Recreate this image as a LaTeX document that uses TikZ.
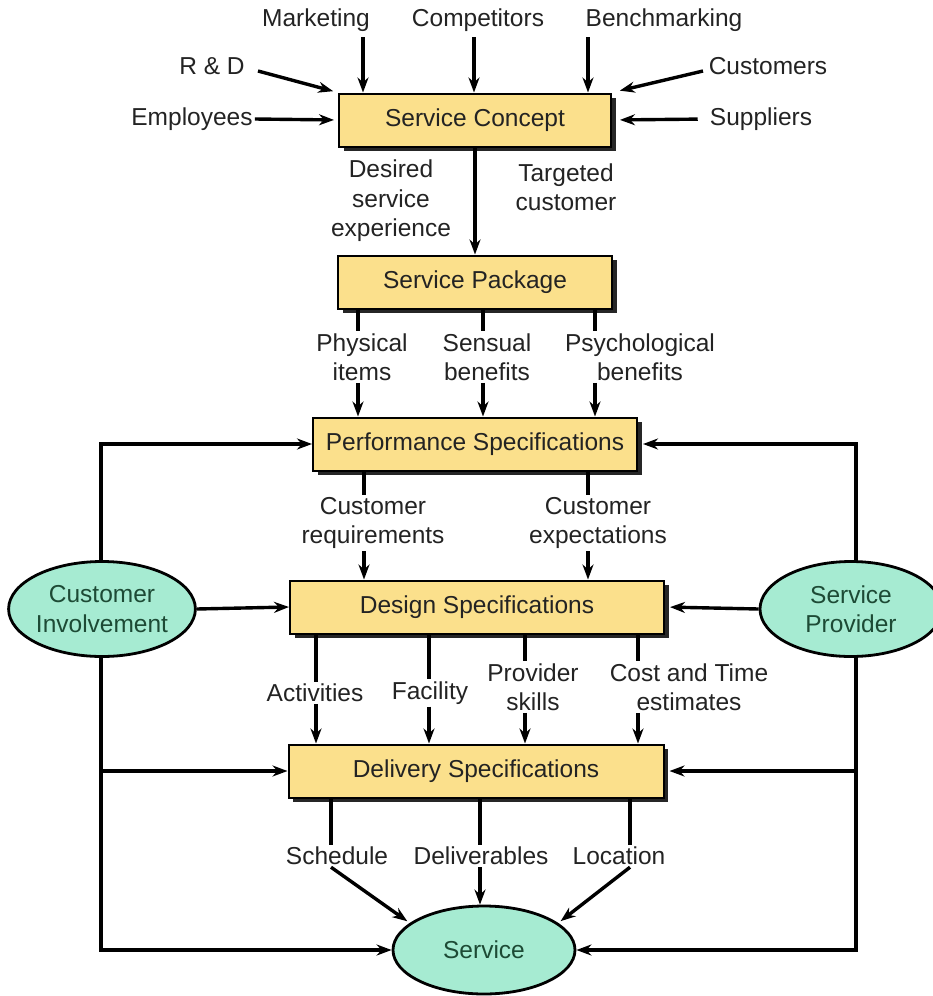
\documentclass[tikz,border=0pt]{standalone}
\usepackage{fontspec}
\setmainfont{Liberation Sans}
\usetikzlibrary{arrows.meta,shadows,shapes.geometric,calc}
\definecolor{boxfill}{HTML}{FBE08C}
\definecolor{ellfill}{HTML}{A6EBD2}
\definecolor{elltext}{HTML}{1D4A35}
\definecolor{txt}{HTML}{232323}
\begin{document}
\begin{tikzpicture}[x=1pt,y=-1pt,
  font=\fontsize{24.5}{29.5}\selectfont,
  box/.style={draw=black, line width=2pt, fill=boxfill, minimum height=53pt, inner sep=0pt, text=txt,
    general shadow={fill=black!85, shadow xshift=4.5pt, shadow yshift=-4.5pt}},
  ell/.style={ellipse, draw=black, line width=2.8pt, fill=ellfill, inner sep=0pt, text=elltext, align=center},
  lbl/.style={align=center, inner sep=2pt, text=txt},
  ln/.style={line width=3.4pt},
  arr/.style={line width=3.4pt, -{Stealth[length=15pt,width=11pt]}}]
\useasboundingbox (0,0) rectangle (933,996);

% boxes
\node[box, minimum width=272pt] (sc) at (475,120) {Service Concept};
\node[box, minimum width=274pt] (sp) at (475,282) {Service Package};
\node[box, minimum width=324pt] (ps) at (475,444) {Performance Specifications};
\node[box, minimum width=374pt] (ds) at (477,607) {Design Specifications};
\node[box, minimum width=375pt] (dl) at (476,771) {Delivery Specifications};

% ellipses
\node[ell, minimum width=182pt, minimum height=95pt] (ci) at (102,609) {Customer\\Involvement};
\node[ell, minimum width=182pt, minimum height=95pt] (spv) at (851,609) {Service\\Provider};
\node[ell, minimum width=182pt, minimum height=88pt] (sv) at (484,950) {Service};

% top inputs
\node[lbl] (mkt) at (316,20) {Marketing};
\node[lbl] (cmp) at (478,20) {Competitors};
\node[lbl] (bch) at (664,20) {Benchmarking};
\node[lbl] (rd) at (212,66) {R \& D};
\node[lbl] (cus) at (768,66) {Customers};
\node[lbl] (emp) at (192,119) {Employees};
\node[lbl] (sup) at (761,119) {Suppliers};

\coordinate (mktA) at (363,37);
\coordinate (cmpA) at (474,37);
\coordinate (bchA) at (588,37);
\coordinate (rdA) at (258,71);
\coordinate (cusA) at (703,71);
\draw[arr] (mktA) -- (mktA |- sc.north);
\draw[arr] (cmpA) -- (cmpA |- sc.north);
\draw[arr] (bchA) -- (bchA |- sc.north);
\draw[arr, shorten >=5pt] (rdA) -- (sc.north west);
\draw[arr, shorten >=8pt] (cusA) -- (sc.north east);
\draw[arr, shorten >=4pt] (emp.east) -- (sc.west);
\draw[arr, shorten <=10pt, shorten >=8pt] (sup.west) -- (sc.east);

% concept -> package
\node[lbl] (dse) at (391,201) {Desired\\service\\experience};
\node[lbl] (tc) at (566,187) {Targeted\\customer};
\draw[arr] (sc.south) -- (sp.north);

% package -> performance
\node[lbl] (phy) at (362,357) {Physical\\items};
\node[lbl] (sen) at (487,357) {Sensual\\benefits};
\node[lbl] (psy) at (640,357) {Psychological\\benefits};
\coordinate (x1) at (358,0);
\coordinate (x2) at (483,0);
\coordinate (x3) at (595,0);
\draw[ln] (sp.south -| x1) -- (phy.north -| x1);
\draw[ln] (sp.south -| x2) -- (sen.north -| x2);
\draw[ln] (sp.south -| x3) -- (psy.north -| x3);
\draw[arr] (phy.south -| x1) -- (ps.north -| x1);
\draw[arr] (sen.south -| x2) -- (ps.north -| x2);
\draw[arr] (psy.south -| x3) -- (ps.north -| x3);

% performance -> design
\node[lbl] (creq) at (373,523) {Customer\\requirements};
\node[lbl] (cexp) at (598,523) {Customer\\expectations};
\coordinate (x4) at (364,0);
\coordinate (x5) at (588,0);
\draw[ln] (ps.south -| x4) -- (creq.north -| x4);
\draw[ln] (ps.south -| x5) -- (cexp.north -| x5);
\draw[arr] (creq.south -| x4) -- (ds.north -| x4);
\draw[arr] (cexp.south -| x5) -- (ds.north -| x5);

% design -> delivery
\node[lbl] (act) at (315,693) {Activities};
\node[lbl] (fac) at (430,693) {Facility};
\node[lbl] (prv) at (533,687) {Provider\\skills};
\node[lbl] (cst) at (689,687) {Cost and Time\\estimates};
\coordinate (x6) at (316,0);
\coordinate (x7) at (429,0);
\coordinate (x8) at (525,0);
\coordinate (x9) at (638,0);
\draw[ln] (ds.south -| x6) -- (act.north -| x6);
\draw[ln] (ds.south -| x7) -- (fac.north -| x7);
\draw[ln] (ds.south -| x8) -- (prv.north -| x8);
\draw[ln] (ds.south -| x9) -- (cst.north -| x9);
\draw[arr] (act.south -| x6) -- (dl.north -| x6);
\draw[arr] (fac.south -| x7) -- (dl.north -| x7);
\draw[arr] (prv.south -| x8) -- (dl.north -| x8);
\draw[arr] (cst.south -| x9) -- (dl.north -| x9);

% delivery -> service
\node[lbl] (sch) at (337,856) {Schedule};
\node[lbl] (dlv) at (481,856) {Deliverables};
\node[lbl] (loc) at (619,856) {Location};
\coordinate (x10) at (331,0);
\coordinate (x11) at (480,0);
\coordinate (x12) at (630,0);
\draw[ln] (dl.south -| x10) -- (sch.north -| x10);
\draw[ln] (dl.south -| x11) -- (dlv.north -| x11);
\draw[ln] (dl.south -| x12) -- (loc.north -| x12);
\draw[arr, shorten >=3pt] (sch.south -| x10) -- (sv.160);
\draw[arr] (dlv.south -| x11) -- (sv.north -| x11);
\draw[arr, shorten >=3pt] (loc.south -| x12) -- (sv.20);

% left loop
\coordinate (lx) at (101,0);
\coordinate (rx) at (856,0);
\draw[arr] (ci.north -| lx) |- (ps.west);
\draw[arr] (ci.south -| lx) |- (sv.west);
\draw[arr] (dl.west -| lx) -- (dl.west);
\draw[arr] (ci.east) -- (ds.west);

% right loop
\draw[arr, shorten >=5pt] (spv.north -| rx) |- (ps.east);
\draw[arr] (spv.south -| rx) |- (sv.east);
\draw[arr, shorten >=5pt] (dl.east -| rx) -- (dl.east);
\draw[arr, shorten >=5pt] (spv.west) -- (ds.east);
\end{tikzpicture}
\end{document}
